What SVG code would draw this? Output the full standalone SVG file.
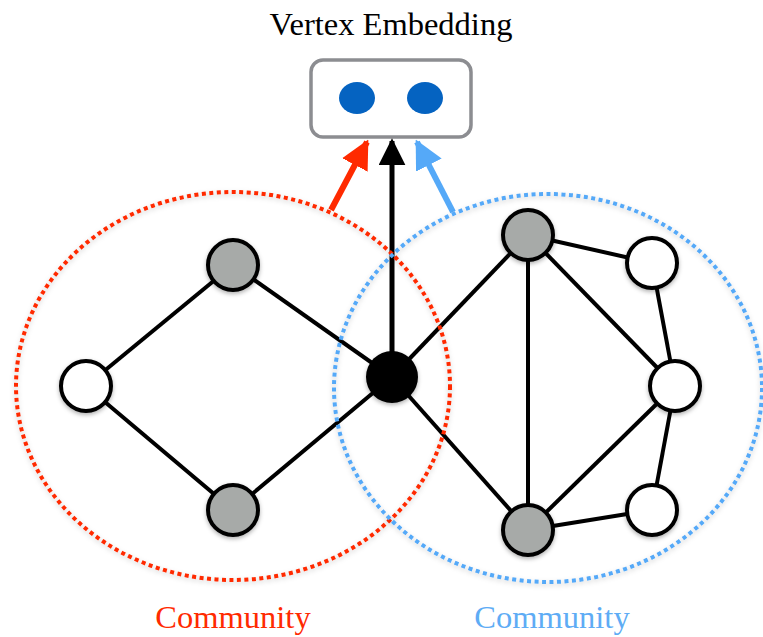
<svg xmlns="http://www.w3.org/2000/svg" width="763" height="637" viewBox="0 0 763 637">
<defs>
<style>
.edge{stroke:#000;stroke-width:4;fill:none}
.node{stroke:#000;stroke-width:4}
.gray{fill:#a7aaa8}
.white{fill:#fff}
.comm{fill:none;stroke-width:4;stroke-dasharray:4 3.5}
.lbl{font-family:"Liberation Serif","Times New Roman",serif;font-size:32.5px;text-anchor:middle}
</style>
<filter id="sh" x="-20%" y="-20%" width="140%" height="150%">
<feDropShadow dx="0" dy="2" stdDeviation="2" flood-color="#000" flood-opacity="0.3"/>
</filter>
<filter id="esh" x="-10%" y="-10%" width="120%" height="120%">
<feDropShadow dx="0" dy="2" stdDeviation="2.5" flood-color="#000" flood-opacity="0.2"/>
</filter>
<marker id="hRed" viewBox="0 0 10 10" refX="9" refY="5" markerWidth="4.8" markerHeight="4.8" orient="auto" markerUnits="strokeWidth"><path d="M0,0 L10,5 L0,10 z" fill="#ff2a00"/></marker>
<marker id="hBlk" viewBox="0 0 10 10" refX="9" refY="5" markerWidth="5.4" markerHeight="5.4" orient="auto" markerUnits="strokeWidth"><path d="M0,0 L10,5 L0,10 z" fill="#000"/></marker>
<marker id="hBlu" viewBox="0 0 10 10" refX="9" refY="5" markerWidth="4.8" markerHeight="4.8" orient="auto" markerUnits="strokeWidth"><path d="M0,0 L10,5 L0,10 z" fill="#55a9f8"/></marker>
</defs>
<rect width="763" height="637" fill="#fff"/>
<text class="lbl" x="391" y="35" fill="#000">Vertex Embedding</text>
<g id="embedding">
<rect x="311" y="60" width="160" height="77" rx="12" fill="#fff" stroke="#8c8d91" stroke-width="3.5"/>
<ellipse cx="357" cy="98" rx="18" ry="16" fill="#0563c1"/>
<ellipse cx="425" cy="98" rx="18" ry="16" fill="#0563c1"/>
</g>
<g id="connectors">
<line class="edge" x1="86" y1="386" x2="233" y2="265"/>
<line class="edge" x1="86" y1="386" x2="233" y2="510"/>
<line class="edge" x1="233" y1="265" x2="392" y2="377"/>
<line class="edge" x1="233" y1="510" x2="392" y2="377"/>
<line class="edge" x1="392" y1="377" x2="528" y2="235"/>
<line class="edge" x1="392" y1="377" x2="528" y2="530"/>
<line class="edge" x1="528" y1="235" x2="528" y2="530"/>
<line class="edge" x1="528" y1="235" x2="652" y2="263"/>
<line class="edge" x1="528" y1="235" x2="675" y2="386"/>
<line class="edge" x1="528" y1="530" x2="675" y2="386"/>
<line class="edge" x1="528" y1="530" x2="652" y2="510"/>
<line class="edge" x1="652" y1="263" x2="675" y2="386"/>
<line class="edge" x1="675" y1="386" x2="652" y2="510"/>
<line x1="392" y1="377" x2="392" y2="141" stroke="#000" stroke-width="5" marker-end="url(#hBlk)"/>
<line x1="331" y1="210" x2="367" y2="142" stroke="#ff2a00" stroke-width="6" marker-end="url(#hRed)"/>
<line x1="453" y1="212" x2="417" y2="142" stroke="#55a9f8" stroke-width="6" marker-end="url(#hBlu)"/>
</g>
<g id="community-red">
<ellipse class="comm" cx="233" cy="386" rx="217" ry="194" stroke="#ff2a00" filter="url(#esh)"/>
<text class="lbl" x="233" y="628" fill="#ff2a00">Community</text>
</g>
<g id="community-blue">
<ellipse class="comm" cx="548" cy="388" rx="214" ry="194" stroke="#55a9f8" filter="url(#esh)"/>
<text class="lbl" x="552" y="628" fill="#5eacf5">Community</text>
</g>
<g id="n-left-white"><circle class="node white" cx="86" cy="386" r="25" filter="url(#sh)"/></g>
<g id="n-left-top"><circle class="node gray" cx="233" cy="265" r="25" filter="url(#sh)"/></g>
<g id="n-left-bottom"><circle class="node gray" cx="233" cy="510" r="25" filter="url(#sh)"/></g>
<g id="n-center"><circle cx="392" cy="377" r="26" fill="#000" filter="url(#sh)"/></g>
<g id="n-right-top"><circle class="node gray" cx="528" cy="235" r="25" filter="url(#sh)"/></g>
<g id="n-right-bottom"><circle class="node gray" cx="528" cy="530" r="25" filter="url(#sh)"/></g>
<g id="n-white-1"><circle class="node white" cx="652" cy="263" r="25" filter="url(#sh)"/></g>
<g id="n-white-2"><circle class="node white" cx="675" cy="386" r="25" filter="url(#sh)"/></g>
<g id="n-white-3"><circle class="node white" cx="652" cy="510" r="25" filter="url(#sh)"/></g>
</svg>
